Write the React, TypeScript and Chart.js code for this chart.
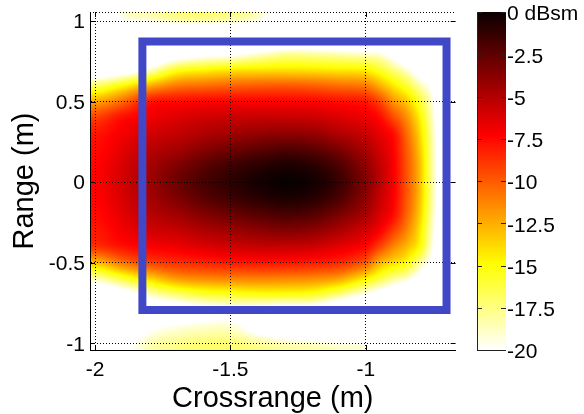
import React, { useEffect, useRef } from 'react';
import { Chart, registerables } from 'chart.js';

Chart.register(...registerables);

// ---- Data ----
// Crossrange sample positions (m) of the RCS image grid
const crossrangeGrid = [-2.0, -1.9, -1.8, -1.7, -1.6, -1.5, -1.4, -1.3, -1.2, -1.1, -1.0, -0.95, -0.9, -0.85, -0.8, -0.75, -0.7];
// Range sample positions (m), top to bottom
const rangeGrid = [1.1, 1.0, 0.9, 0.8, 0.7, 0.6, 0.5, 0.4, 0.3, 0.2, 0.1, 0, -0.1, -0.2, -0.3, -0.4, -0.5, -0.6, -0.7, -0.8, -0.9, -1.0, -1.1];

// RCS (dBsm) along crossrange, one row per range sample
const rcsY110 = [-24, -19, -18.2, -17.2, -16.9, -17.3, -18.3, -21, -25, -27, -28, -28, -28, -28, -28, -28, -28];
const rcsY100 = [-26, -20.5, -19.6, -18.7, -18.5, -18.8, -19.8, -23, -27, -28, -28, -28, -28, -28, -28, -28, -28];
const rcsY090 = [-30, -28, -28, -28, -28, -28, -27, -25, -25, -26, -27, -28, -28, -28, -28, -28, -28];
const rcsY080 = [-28, -27, -25, -22.5, -21.2, -20.8, -19.5, -18.3, -18.4, -18.8, -19.3, -19.6, -21.5, -24, -27, -28, -28];
const rcsY070 = [-23, -22, -19.2, -15.8, -15.0, -14.5, -14.3, -14.2, -14.3, -14.5, -14.7, -15.8, -17.4, -19.2, -22, -24, -28];
const rcsY060 = [-17, -15, -12.6, -11.0, -10.6, -10.3, -10.1, -10.0, -10.2, -10.6, -11.0, -12.5, -14.2, -15.9, -18.4, -21, -28];
const rcsY050 = [-12.3, -10.5, -8.0, -7.6, -7.4, -7.3, -7.3, -7.3, -7.4, -7.7, -8.0, -9.3, -11.6, -13.3, -16.0, -19.8, -27];
const rcsY040 = [-9.2, -7.7, -6.9, -6.3, -5.9, -5.7, -5.6, -5.6, -5.7, -6.2, -6.8, -7.5, -9.4, -11.5, -14.6, -19.2, -26];
const rcsY030 = [-7.9, -7.0, -6.0, -5.5, -4.9, -4.5, -4.1, -3.9, -4.1, -4.9, -5.7, -6.6, -7.6, -10.4, -13.8, -18.8, -25.5];
const rcsY020 = [-7.6, -6.5, -5.2, -4.6, -3.7, -3.0, -2.4, -2.0, -2.3, -3.3, -4.7, -5.9, -7.2, -9.9, -13.3, -18.6, -25];
const rcsY010 = [-7.4, -6.15, -4.7, -3.5, -2.4, -1.6, -0.95, -0.55, -0.85, -1.95, -3.9, -5.4, -7.0, -9.7, -13.0, -18.5, -25];
const rcsY000 = [-7.3, -6.0, -4.5, -3.0, -1.9, -1.1, -0.4, 0, -0.3, -1.4, -3.5, -5.2, -7.0, -9.7, -13.0, -18.5, -25];
const rcsYm010 = [-7.4, -6.15, -4.7, -3.5, -2.4, -1.6, -0.95, -0.55, -0.85, -1.95, -3.9, -5.5, -7.1, -9.8, -13.1, -18.6, -25];
const rcsYm020 = [-7.6, -6.5, -5.2, -4.5, -3.6, -2.9, -2.3, -1.9, -2.2, -3.3, -4.7, -6.1, -7.5, -10.2, -13.5, -18.9, -25];
const rcsYm030 = [-8.0, -7.0, -6.0, -5.6, -4.9, -4.4, -3.9, -3.6, -3.9, -4.8, -6.0, -7.1, -9.0, -11.2, -14.2, -19.4, -25.5];
const rcsYm040 = [-8.8, -7.8, -7.2, -6.8, -6.3, -5.9, -5.6, -5.6, -5.8, -6.5, -7.4, -9.2, -11.2, -12.8, -15.0, -20, -26];
const rcsYm050 = [-13, -10.8, -9.3, -8.7, -8.3, -8.0, -7.9, -7.9, -8.1, -8.5, -10.0, -12.6, -13.8, -15, -17.8, -21.5, -27];
const rcsYm060 = [-18.5, -16.2, -13.8, -12, -11.5, -11.3, -11.2, -11.3, -11.5, -12.2, -14.5, -16.2, -17.8, -19, -21.5, -24, -28];
const rcsYm070 = [-24, -22, -19, -17.3, -16.2, -15.8, -15.5, -15.5, -15.8, -17.6, -20, -21.5, -23, -25, -26, -27, -28];
const rcsYm080 = [-28, -26, -23, -22, -21, -20.5, -21, -22, -22, -24, -26, -27, -28, -28, -28, -28, -28];
const rcsYm090 = [-28, -24, -20.5, -19.5, -19, -19, -21, -23, -25, -26, -28, -28, -28, -28, -28, -28, -28];
const rcsYm100 = [-26, -21.5, -18.7, -17.8, -17.3, -17.3, -18, -18.7, -19.0, -19.6, -20.2, -25, -27, -28, -28, -28, -28];
const rcsYm110 = [-25, -20.5, -18.3, -17.3, -16.9, -16.8, -17.2, -17.8, -18.4, -19.0, -19.6, -23, -25, -28, -28, -28, -28];

const rcsRows = [
  rcsY110, rcsY100, rcsY090, rcsY080, rcsY070, rcsY060, rcsY050, rcsY040, rcsY030, rcsY020, rcsY010, rcsY000,
  rcsYm010, rcsYm020, rcsYm030, rcsYm040, rcsYm050, rcsYm060, rcsYm070, rcsYm080, rcsYm090, rcsYm100, rcsYm110,
];

// Target box outline (m)
const boxCrossrange = [-1.825, -0.7015, -0.7015, -1.825, -1.825];
const boxRange = [0.873, 0.873, -0.794, -0.794, 0.873];

// Axis ticks
const xTicks = [-2, -1.5, -1];
const yTicks = [-1, -0.5, 0, 0.5, 1];
const colorbarTicks = [0, -2.5, -5, -7.5, -10, -12.5, -15, -17.5, -20];

// Axis limits
const X_MIN = -2.0185;
const X_MAX = -0.668;
const Y_MIN = -1.0416;
const Y_MAX = 1.0559;
const C_MIN = -20;
const C_MAX = 0;

// ---- helpers ----
function clamp01(v: number) {
  return Math.max(0, Math.min(1, v));
}

// MATLAB "hot" colormap, t in [0,1]
function hotColor(t: number): [number, number, number] {
  const k = clamp01(t) * 63 + 1;
  return [
    Math.round(clamp01(k / 24) * 255),
    Math.round(clamp01((k - 24) / 24) * 255),
    Math.round(clamp01((k - 48) / 16) * 255),
  ];
}

function dbToColor(v: number) {
  return hotColor((C_MAX - v) / (C_MAX - C_MIN));
}

// fractional index of value v inside a monotonic sample list
function fracIndex(list: number[], v: number) {
  const n = list.length;
  const asc = list[n - 1] > list[0];
  for (let i = 0; i < n - 1; i++) {
    const a = list[i];
    const b = list[i + 1];
    const inside = asc ? v <= b : v >= b;
    if (inside || i === n - 2) {
      const t = (v - a) / (b - a);
      return Math.max(0, Math.min(n - 1, i + t));
    }
  }
  return 0;
}

function catmull(p0: number, p1: number, p2: number, p3: number, t: number) {
  return 0.5 * (2 * p1 + (-p0 + p2) * t + (2 * p0 - 5 * p1 + 4 * p2 - p3) * t * t + (-p0 + 3 * p1 - 3 * p2 + p3) * t * t * t);
}

function sampleRcs(x: number, y: number) {
  const nx = crossrangeGrid.length;
  const ny = rangeGrid.length;
  const u = fracIndex(crossrangeGrid, x);
  const w = fracIndex(rangeGrid, y);
  const i = Math.min(Math.floor(u), nx - 2);
  const j = Math.min(Math.floor(w), ny - 2);
  const tx = u - i;
  const ty = w - j;
  const ci = (k: number) => Math.max(0, Math.min(nx - 1, k));
  const cj = (k: number) => Math.max(0, Math.min(ny - 1, k));
  const rowVal = (r: number) => {
    const row = rcsRows[cj(r)];
    return catmull(row[ci(i - 1)], row[ci(i)], row[ci(i + 1)], row[ci(i + 2)], tx);
  };
  return catmull(rowVal(j - 1), rowVal(j), rowVal(j + 1), rowVal(j + 2), ty);
}

const COLORBAR_GAP = 21;
const COLORBAR_WIDTH = 29;

const heatmapPlugin = {
  id: 'rcsHeatmap',
  beforeDraw(chart: any) {
    const { ctx, chartArea, scales } = chart;
    const xs = scales.x;
    const ys = scales.y;
    const cb = scales.cb;
    const left = Math.floor(chartArea.left);
    const top = Math.floor(chartArea.top);
    const w = Math.ceil(chartArea.right) - left;
    const h = Math.ceil(chartArea.bottom) - top;
    const off = document.createElement('canvas');
    off.width = w;
    off.height = h;
    const octx = off.getContext('2d')!;
    const img = octx.createImageData(w, h);
    const xv: number[] = [];
    for (let i = 0; i < w; i++) xv.push(xs.getValueForPixel(left + i + 0.5));
    for (let j = 0; j < h; j++) {
      const yv = ys.getValueForPixel(top + j + 0.5);
      for (let i = 0; i < w; i++) {
        const [r, g, b] = dbToColor(sampleRcs(xv[i], yv));
        const p = (j * w + i) * 4;
        img.data[p] = r;
        img.data[p + 1] = g;
        img.data[p + 2] = b;
        img.data[p + 3] = 255;
      }
    }
    octx.putImageData(img, 0, 0);
    ctx.save();
    ctx.beginPath();
    ctx.rect(chartArea.left, chartArea.top, chartArea.right - chartArea.left, chartArea.bottom - chartArea.top);
    ctx.clip();
    ctx.drawImage(off, left, top);
    ctx.restore();

    // colorbar
    const x0 = Math.round(chartArea.right + COLORBAR_GAP);
    const cTop = Math.round(cb.getPixelForValue(C_MAX));
    const cBot = Math.round(cb.getPixelForValue(C_MIN)) + 1;
    for (let py = cTop; py < cBot; py++) {
      const v = cb.getValueForPixel(py + 0.5);
      const [r, g, b] = dbToColor(v);
      ctx.fillStyle = `rgb(${r},${g},${b})`;
      ctx.fillRect(x0, py, COLORBAR_WIDTH, 1);
    }
  },
  afterDraw(chart: any) {
    const { ctx, chartArea, scales } = chart;
    const xs = scales.x;
    const ys = scales.y;
    const cb = scales.cb;
    const L = chartArea.left;
    const R = chartArea.right;
    const T = chartArea.top;
    const B = chartArea.bottom;
    ctx.save();
    ctx.strokeStyle = '#000';
    ctx.lineWidth = 1;
    // dotted top edge
    ctx.setLineDash([1, 2]);
    ctx.beginPath();
    ctx.moveTo(L, Math.round(T) + 0.5);
    ctx.lineTo(R, Math.round(T) + 0.5);
    ctx.stroke();
    ctx.setLineDash([]);
    // inward tick marks
    ctx.beginPath();
    xTicks.forEach((v) => {
      const px = Math.round(xs.getPixelForValue(v)) + 0.5;
      ctx.moveTo(px, B);
      ctx.lineTo(px, B - 5);
      ctx.moveTo(px, T);
      ctx.lineTo(px, T + 5);
    });
    yTicks.forEach((v) => {
      const py = Math.round(ys.getPixelForValue(v)) + 0.5;
      ctx.moveTo(L, py);
      ctx.lineTo(L + 5, py);
      ctx.moveTo(R, py);
      ctx.lineTo(R - 5, py);
    });
    ctx.stroke();

    // colorbar frame and ticks
    const x0 = Math.round(R + COLORBAR_GAP);
    const cTop = Math.round(cb.getPixelForValue(C_MAX));
    const cBot = Math.round(cb.getPixelForValue(C_MIN)) + 1;
    ctx.strokeStyle = '#222';
    ctx.beginPath();
    ctx.moveTo(x0 + 0.5, cTop);
    ctx.lineTo(x0 + 0.5, cBot);
    ctx.moveTo(x0, cBot - 0.5);
    ctx.lineTo(x0 + COLORBAR_WIDTH, cBot - 0.5);
    colorbarTicks.forEach((v) => {
      const py = Math.round(cb.getPixelForValue(v)) + 0.5;
      ctx.moveTo(x0, py);
      ctx.lineTo(x0 + 5, py);
      ctx.moveTo(x0 + COLORBAR_WIDTH - 5, py);
      ctx.lineTo(x0 + COLORBAR_WIDTH, py);
    });
    ctx.stroke();
    ctx.restore();
  },
};

const FONT = "'Liberation Sans', Arial, Helvetica, sans-serif";

const zeroPad = (s: any) => {
  s.paddingTop = 0;
  s.paddingBottom = 0;
  s.paddingLeft = 0;
  s.paddingRight = 0;
};

export default function App() {
  const ref = useRef<HTMLCanvasElement>(null);
  useEffect(() => {
    const canvas = ref.current;
    if (!canvas) return;
    Chart.defaults.font.family = FONT;
    Chart.defaults.color = '#000';
    const chart = new Chart(canvas, {
      type: 'scatter',
      data: {
        datasets: [
          {
            label: 'box',
            data: boxCrossrange.map((x, i) => ({ x, y: boxRange[i] })),
            showLine: true,
            borderColor: '#4148C8',
            backgroundColor: '#4148C8',
            borderWidth: 8,
            pointRadius: 0,
            borderCapStyle: 'square',
            borderJoinStyle: 'miter',
            fill: false,
            tension: 0,
          } as any,
        ],
      },
      options: {
        animation: false,
        responsive: false,
        devicePixelRatio: 1,
        events: [],
        layout: { padding: { top: 12, left: 0, right: 0, bottom: 0 } },
        plugins: { legend: { display: false }, tooltip: { enabled: false } },
        scales: {
          x: {
            type: 'linear',
            position: 'bottom',
            min: X_MIN,
            max: X_MAX,
            afterBuildTicks: (s: any) => {
              s.ticks = xTicks.map((v) => ({ value: v }));
            },
            afterFit: (s: any) => {
              s.height = 64;
              zeroPad(s);
            },
            ticks: {
              callback: (v: any) => String(v),
              font: { size: 21, family: FONT },
              color: '#000',
              padding: 8,
              maxRotation: 0,
              autoSkip: false,
            },
            grid: { color: '#000', lineWidth: 1, drawTicks: false },
            border: { display: true, color: '#000', width: 1, dash: [1, 2] },
            title: {
              display: true,
              text: 'Crossrange (m)',
              color: '#000',
              font: { size: 29, lineHeight: 1, family: FONT },
              padding: { top: 0, bottom: 1 },
            },
          },
          y: {
            type: 'linear',
            position: 'left',
            min: Y_MIN,
            max: Y_MAX,
            afterBuildTicks: (s: any) => {
              s.ticks = yTicks.map((v) => ({ value: v }));
            },
            afterFit: (s: any) => {
              s.width = 90;
              zeroPad(s);
            },
            ticks: {
              callback: (v: any) => String(v),
              font: { size: 21, family: FONT },
              color: '#000',
              padding: 5,
              labelOffset: 1.5,
              autoSkip: false,
            },
            grid: { color: '#000', lineWidth: 1, drawTicks: false },
            border: { display: true, color: '#000', width: 1, dash: [1, 2] },
            title: {
              display: true,
              text: 'Range (m)',
              color: '#000',
              font: { size: 29, lineHeight: 1, family: FONT },
              padding: { top: 10, bottom: 0 },
            },
          },
          cb: {
            type: 'linear',
            position: 'right',
            min: C_MIN,
            max: C_MAX,
            afterBuildTicks: (s: any) => {
              s.ticks = colorbarTicks.map((v) => ({ value: v }));
            },
            afterFit: (s: any) => {
              s.width = 128.4;
              zeroPad(s);
            },
            ticks: {
              callback: (v: any) => (v === 0 ? '0 dBsm' : String(v)),
              font: { size: 21, family: FONT },
              color: '#000',
              padding: 51.4,
              labelOffset: 2.5,
              autoSkip: false,
            },
            grid: { display: false, drawTicks: false },
            border: { display: false },
          },
        },
      } as any,
      plugins: [heatmapPlugin],
    });
    return () => chart.destroy();
  }, []);
  return (
    <div style={{ position: 'fixed', left: 0, top: 0, width: 584, height: 414, background: '#fff' }}>
      <canvas ref={ref} width={584} height={414} style={{ display: 'block', width: 584, height: 414 }} />
    </div>
  );
}
